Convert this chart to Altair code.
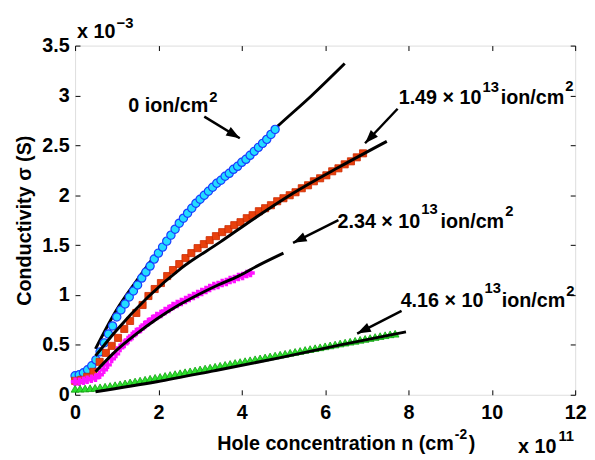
import math
import altair as alt
import pandas as pd

# ---------------- data ----------------
# 0 ion/cm^2 (blue circles)
blue_x = [0, 0.1, 0.2, 0.3, 0.4, 0.5, 0.6, 0.7, 0.8, 0.9, 1.0, 1.1, 1.2, 1.3, 1.4, 1.5,
          1.6, 1.7, 1.8, 1.9, 2.0, 2.1, 2.2, 2.3, 2.4, 2.5, 2.6, 2.7, 2.8, 2.9, 3.0, 3.1,
          3.2, 3.3, 3.4, 3.5, 3.6, 3.7, 3.8, 3.9, 4.0, 4.1, 4.2, 4.3, 4.4, 4.5, 4.6, 4.7, 4.8]
blue_y = [0.19, 0.20, 0.22, 0.25, 0.29, 0.35, 0.43, 0.52, 0.61, 0.69, 0.78, 0.85, 0.91, 0.98,
          1.04, 1.10, 1.17, 1.23, 1.29, 1.36, 1.42, 1.48, 1.54, 1.60, 1.66, 1.72, 1.77, 1.82,
          1.87, 1.92, 1.96, 2.00, 2.04, 2.08, 2.12, 2.15, 2.19, 2.22, 2.26, 2.29, 2.33, 2.36,
          2.40, 2.44, 2.48, 2.52, 2.56, 2.61, 2.66]
blue_fit_x = [0.49, 0.98, 1.47, 1.96, 2.53, 3.1, 3.92, 4.83, 5.68, 6.47]
blue_fit_y = [0.46, 0.84, 1.14, 1.42, 1.73, 1.97, 2.31, 2.68, 3.0, 3.32]

# 1.49e13 ion/cm^2 (red squares)
red_x = [0, 0.15, 0.29, 0.44, 0.59, 0.74, 0.88, 1.03, 1.18, 1.32, 1.47, 1.62, 1.76, 1.91,
         2.06, 2.21, 2.35, 2.5, 2.65, 2.79, 2.94, 3.09, 3.23, 3.38, 3.53, 3.68, 3.82, 3.97,
         4.12, 4.26, 4.41, 4.56, 4.7, 4.85, 5.0, 5.15, 5.29, 5.44, 5.59, 5.73, 5.88, 6.03,
         6.17, 6.32, 6.47, 6.62, 6.76, 6.91]
red_y = [0.14, 0.15, 0.18, 0.23, 0.33, 0.42, 0.49, 0.57, 0.66, 0.74, 0.82, 0.90, 0.99, 1.06,
         1.12, 1.19, 1.25, 1.31, 1.37, 1.42, 1.47, 1.51, 1.55, 1.59, 1.63, 1.66, 1.70, 1.73,
         1.77, 1.80, 1.84, 1.87, 1.90, 1.94, 1.97, 2.00, 2.03, 2.07, 2.10, 2.14, 2.17, 2.20,
         2.24, 2.27, 2.31, 2.34, 2.38, 2.42]
red_fit_x = [0.49, 0.98, 1.75, 2.55, 3.48, 4.31, 5.23, 6.37, 7.48]
red_fit_y = [0.39, 0.64, 0.98, 1.27, 1.53, 1.77, 2.02, 2.29, 2.54]

# 2.34e13 ion/cm^2 (magenta)
mag_x = [0, 0.1, 0.2, 0.29, 0.39, 0.49, 0.59, 0.69, 0.78, 0.88, 0.98, 1.08, 1.18, 1.27, 1.37,
         1.47, 1.57, 1.67, 1.76, 1.86, 1.96, 2.06, 2.16, 2.25, 2.35, 2.45, 2.55, 2.65, 2.74,
         2.84, 2.94, 3.04, 3.14, 3.23, 3.33, 3.43, 3.53, 3.63, 3.72, 3.82, 3.92, 4.02, 4.12, 4.21]
mag_y = [0.13, 0.13, 0.14, 0.15, 0.16, 0.17, 0.20, 0.25, 0.30, 0.36, 0.41, 0.47, 0.51, 0.55,
         0.59, 0.63, 0.66, 0.70, 0.73, 0.76, 0.79, 0.81, 0.84, 0.86, 0.89, 0.91, 0.93, 0.95,
         0.97, 0.99, 1.01, 1.03, 1.05, 1.07, 1.09, 1.10, 1.12, 1.13, 1.15, 1.16, 1.18, 1.19,
         1.21, 1.22]
mag_fit_x = [0.49, 0.98, 1.47, 1.96, 2.45, 2.94, 3.43, 3.92, 4.41, 5.0]
mag_fit_y = [0.23, 0.44, 0.61, 0.76, 0.89, 1.0, 1.1, 1.19, 1.3, 1.42]

# 4.16e13 ion/cm^2 (green triangles)
green_x = [0, 0.12, 0.24, 0.36, 0.48, 0.6, 0.72, 0.84, 0.96, 1.08, 1.2, 1.32, 1.44, 1.56, 1.68,
           1.8, 1.92, 2.04, 2.16, 2.28, 2.4, 2.52, 2.64, 2.76, 2.88, 3.0, 3.12, 3.24, 3.36,
           3.48, 3.6, 3.72, 3.84, 3.96, 4.08, 4.2, 4.32, 4.44, 4.56, 4.68, 4.8, 4.92, 5.04,
           5.16, 5.28, 5.4, 5.52, 5.64, 5.76, 5.88, 6.0, 6.12, 6.24, 6.36, 6.48, 6.6, 6.72,
           6.84, 6.96, 7.08, 7.2, 7.32, 7.44, 7.56, 7.68]
green_y = [0.060, 0.061, 0.063, 0.066, 0.070, 0.075, 0.081, 0.088, 0.096, 0.105, 0.114, 0.124,
           0.133, 0.142, 0.151, 0.161, 0.170, 0.179, 0.189, 0.198, 0.207, 0.216, 0.226, 0.235,
           0.244, 0.254, 0.263, 0.272, 0.281, 0.291, 0.300, 0.309, 0.319, 0.328, 0.337, 0.346,
           0.356, 0.365, 0.374, 0.384, 0.393, 0.402, 0.411, 0.421, 0.430, 0.439, 0.449, 0.458,
           0.467, 0.476, 0.486, 0.495, 0.504, 0.514, 0.523, 0.532, 0.541, 0.551, 0.560, 0.569,
           0.579, 0.588, 0.597, 0.606, 0.612]
green_fit_x = [0.49, 1.96, 3.33, 4.9, 6.37, 7.94]
green_fit_y = [0.03, 0.13, 0.24, 0.37, 0.5, 0.63]

x_ticks = [0, 2, 4, 6, 8, 10, 12]
y_ticks = [0, 0.5, 1, 1.5, 2, 2.5, 3, 3.5]

# ---------------- layout ----------------
W, H = 507, 354
X_DOMAIN = [0, 12]
Y_DOMAIN = [0, 3.5]
PAD = {"left": 68, "top": 35, "right": 12, "bottom": 62}
OX, OY = 8 + PAD["left"], 8 + PAD["top"]   # page position of plot's top-left
FONT = "Liberation Sans"


def to_x(px):
    return (px - OX) / W * (X_DOMAIN[1] - X_DOMAIN[0]) + X_DOMAIN[0]


def to_y(py):
    return (OY + H - py) / H * (Y_DOMAIN[1] - Y_DOMAIN[0]) + Y_DOMAIN[0]


xs = alt.Scale(domain=X_DOMAIN, nice=False, zero=False)
ys = alt.Scale(domain=Y_DOMAIN, nice=False, zero=False)


def XY(xf="x", yf="y"):
    return dict(x=alt.X(f"{xf}:Q", scale=xs, axis=None),
                y=alt.Y(f"{yf}:Q", scale=ys, axis=None))


def frame(xv, yv):
    return pd.DataFrame({"x": xv, "y": yv})


df_blue = frame(blue_x, blue_y)
df_red = frame(red_x, red_y)
df_mag = frame(mag_x, mag_y)
df_green = frame(green_x, green_y)

blue_pts = alt.Chart(df_blue).mark_point(shape="circle", filled=True, size=70, fill="#22dcff",
                                         stroke="#1a3cff", strokeWidth=1.2, opacity=1).encode(**XY())
red_pts = alt.Chart(df_red).mark_point(shape="square", filled=True, size=52, fill="#e8400c",
                                       stroke="#cc2a00", strokeWidth=0.8, opacity=1).encode(**XY())
mag_pts = alt.Chart(df_mag).mark_point(shape="cross", filled=True, size=75, fill="#ff12ff",
                                       opacity=1).encode(**XY())
green_pts = alt.Chart(df_green).mark_point(shape="triangle-up", filled=True, size=62, fill="#2ee02e",
                                           stroke="#10a010", strokeWidth=0.8, opacity=1).encode(**XY())


def fit(xv, yv):
    return alt.Chart(frame(xv, yv)).mark_line(color="black", strokeWidth=3, interpolate="monotone").encode(
        x=alt.X("x:Q", scale=xs, axis=None), y=alt.Y("y:Q", scale=ys, axis=None),
        order=alt.Order("x:Q"))


blue_fit = fit(blue_fit_x, blue_fit_y)
red_fit = fit(red_fit_x, red_fit_y)
mag_fit = fit(mag_fit_x, mag_fit_y)
green_fit = fit(green_fit_x, green_fit_y)

# ---------------- annotations ----------------
arrow_tail_px = [(207, 115), (403, 107), (343, 220), (407, 312)]
arrow_tip_px = [(243, 137), (370, 142), (297, 243), (362, 335)]
rows = []
for (tx, ty), (hx, hy) in zip(arrow_tail_px, arrow_tip_px):
    ang = math.degrees(math.atan2(hx - tx, -(hy - ty))) % 360
    rows.append({"x": to_x(tx), "y": to_y(ty), "x2": to_x(hx), "y2": to_y(hy), "angle": ang})
df_arrow = pd.DataFrame(rows)

arrow_shaft = alt.Chart(df_arrow).mark_rule(color="black", strokeWidth=2.5).encode(
    x=alt.X("x:Q", scale=xs, axis=None), y=alt.Y("y:Q", scale=ys, axis=None),
    x2="x2:Q", y2="y2:Q")
arrow_head = alt.Chart(df_arrow).mark_point(shape="M0,0 L0.72,2 L-0.72,2 Z", filled=True,
                                            fill="black", size=190, opacity=1).encode(
    x=alt.X("x2:Q", scale=xs, axis=None), y=alt.Y("y2:Q", scale=ys, axis=None),
    angle=alt.Angle("angle:Q", scale=None))

# right-aligned text pieces (anchored at their right end): text, page x, baseline y, font size
rt_t = ["0 ion/cm", "1.49 × 10", "ion/cm", "2.34 × 10", "ion/cm", "4.16 × 10", "ion/cm",
        "Hole concentration n (cm", "x 10", "x 10"]
rt_px = [211, 488, 572, 426, 511, 490, 573, 460, 117, 564]
rt_py = [110, 102, 102, 228, 228, 308, 308, 453, 35, 456]
rt_fs = [20, 20, 20, 20, 20, 20, 20, 20, 20, 20]

# left-aligned superscripts / closing pieces
lt_t = ["2", "13", "2", "13", "2", "13", "2", "-2", ")", "\u22123", "11"]
lt_px = [212, 489, 573, 427, 512, 491, 574, 461, 475, 118, 566]
lt_py = [100, 90, 89, 214, 216, 294, 297, 442, 453, 25, 444]
lt_fs = [15, 15, 15, 15, 15, 15, 15, 14, 20, 15, 15]


def text_layer(tv, pxv, pyv, fsv, align):
    df = pd.DataFrame({"x": [to_x(p) for p in pxv], "y": [to_y(p) for p in pyv],
                       "t": tv, "fs": fsv})
    return alt.Chart(df).mark_text(font=FONT, fontWeight="bold", align=align,
                                   baseline="alphabetic", color="black").encode(
        **XY(), text="t:N", size=alt.Size("fs:Q", scale=None))


texts_r = text_layer(rt_t, rt_px, rt_py, rt_fs, "right")
texts_l = text_layer(lt_t, lt_px, lt_py, lt_fs, "left")

# ---------------- axes ----------------
main_axes = alt.Chart(df_blue).mark_point(opacity=0).encode(
    x=alt.X("x:Q", scale=xs, axis=alt.Axis(
        orient="bottom", values=x_ticks, format="d", title=None, ticks=False, tickSize=0,
        domain=False, grid=False, labelFont=FONT, labelFontWeight="bold", labelFontSize=20,
        labelColor="black", labelPadding=8, labelFlush=False, labelOverlap=False)),
    y=alt.Y("y:Q", scale=ys, axis=alt.Axis(
        orient="left", values=y_ticks, format="~g", title="Conductivity σ (S)", ticks=False,
        tickSize=0, domain=False, grid=False, labelFont=FONT, labelFontWeight="bold",
        labelFontSize=20, labelColor="black", labelPadding=6, labelOverlap=False,
        titleFont=FONT, titleFontWeight="bold", titleFontSize=20, titleColor="black",
        titlePadding=7)),
)

tick_common = dict(labels=False, domain=False, ticks=True, tickSize=5, tickColor="black",
                   tickWidth=1, title=None, grid=False)

ticks_a = alt.Chart(df_blue).mark_point(opacity=0).encode(
    x=alt.X("x:Q", scale=xs, axis=alt.Axis(orient="top", offset=-H, values=x_ticks, **tick_common)),
    y=alt.Y("y:Q", scale=ys, axis=alt.Axis(orient="right", offset=-W, values=y_ticks, **tick_common)),
)
ticks_b = alt.Chart(df_blue).mark_point(opacity=0).encode(
    x=alt.X("x:Q", scale=xs, axis=alt.Axis(orient="bottom", offset=-H, values=x_ticks, **tick_common)),
    y=alt.Y("y:Q", scale=ys, axis=alt.Axis(orient="left", offset=-W, values=y_ticks, **tick_common)),
)

chart = alt.layer(
    main_axes, ticks_a, ticks_b,
    blue_fit, blue_pts,
    red_pts, red_fit,
    mag_pts, mag_fit,
    green_pts, green_fit,
    arrow_shaft, arrow_head,
    texts_r, texts_l,
).resolve_axis(x="independent", y="independent").properties(
    width=W, height=H,
    autosize=alt.AutoSizeParams(type="none"),
    padding=PAD,
).configure_view(stroke="black", strokeWidth=1).configure(background="white")

chart.save("out.html", embed_options={"renderer": "svg", "actions": False})
